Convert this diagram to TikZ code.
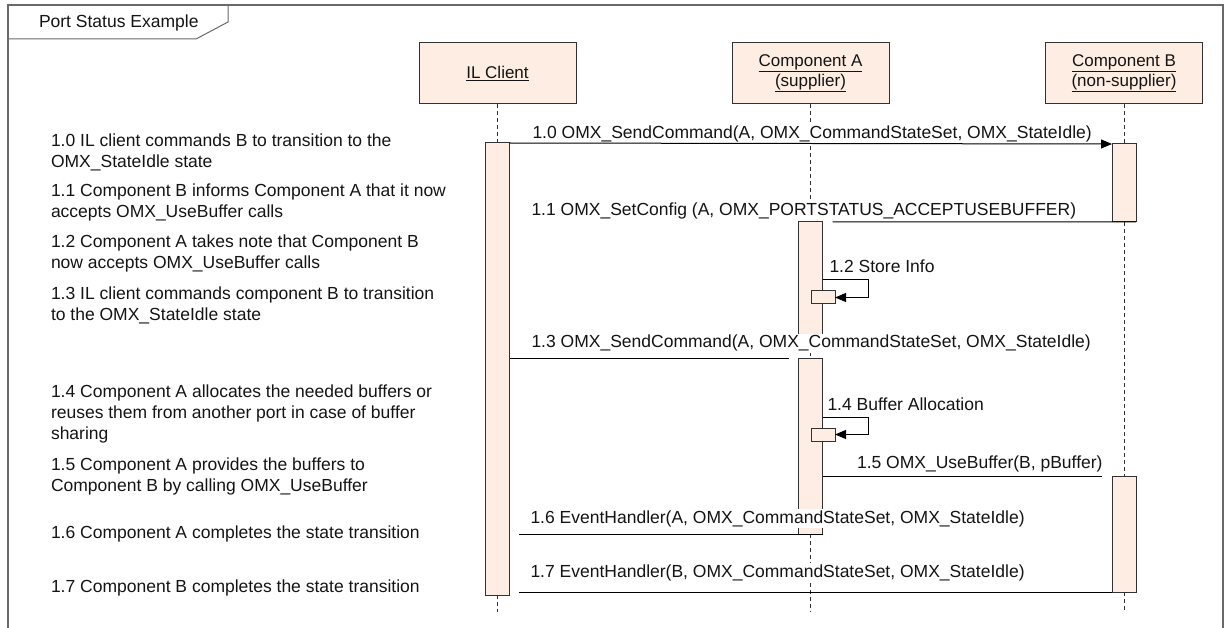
\documentclass[tikz,border=0pt]{standalone}
\usepackage{fontspec}
\setmainfont{Liberation Sans}
\usetikzlibrary{arrows.meta,calc}
\definecolor{peach}{RGB}{253,237,226}
\definecolor{edgec}{RGB}{50,50,50}
\definecolor{framec}{RGB}{105,105,105}
\definecolor{txt}{RGB}{20,20,20}
\begin{document}
\begin{tikzpicture}[x=1bp,y=-1bp,
  every node/.style={inner sep=0pt, outer sep=0pt, text=txt},
  body/.style={font=\fontsize{17.5bp}{21bp}\selectfont},
  lbl/.style={body, fill=white, inner xsep=1.5bp, inner ysep=1bp},
  head/.style={draw=edgec, fill=peach, line width=1bp, minimum width=157bp, minimum height=61bp, align=center, font=\fontsize{17bp}{20bp}\selectfont},
  bar/.style={draw=edgec, fill=peach, line width=1bp, minimum width=24bp, anchor=north},
  sbox/.style={draw=edgec, fill=peach, line width=1bp, minimum width=24bp, minimum height=13bp},
  life/.style={draw=edgec, line width=0.8bp, dash pattern=on 4bp off 3bp},
  msg/.style={draw=black, line width=1bp},
  tip/.style={-{Triangle[length=11bp,width=9bp]}}
]
\useasboundingbox (0,0) rectangle (1227,628);
% frame
\draw[framec, line width=1.3bp] (8,628) -- (8,5) -- (1223,5) -- (1223,628);
\draw[framec, line width=1bp] (8,39) -- (196,39) -- (228,22) -- (228,5);
\node[body, anchor=base west] (title) at (39,28) {Port Status Example};

% headers
\node[head] (il) at (497.5,73.5) {\underline{IL Client}};
\node[head] (ca) at (810.5,73.5) {\underline{Component A}\\\underline{(supplier)}};
\node[head] (cb) at (1124,73.5) {\underline{Component B}\\\underline{(non-supplier)}};

% end points of lifelines
\coordinate (ilend) at (497.5,612);
\coordinate (caend) at (810.5,612);
\coordinate (cbend) at (1124,612);

% activation bar tops
\path (497.5,143) coordinate (ilt) (1124,144) coordinate (b1t) (810.5,222) coordinate (a1t)
      (810.5,358) coordinate (a2t) (1124,476) coordinate (b2t);

% lifelines
\draw[life] (il.south) -- (ilt);
\draw[life] (ca.south) -- (a1t);
\draw[life] (cb.south) -- (b1t);

\node[bar, minimum height=452bp] (ilbar) at (ilt) {};
\node[bar, minimum height=78bp] (bbar1) at (b1t) {};
\node[bar, minimum height=123bp] (abar1) at (a1t) {};
\node[bar, minimum height=176bp] (abar2) at (a2t) {};
\node[bar, minimum height=116bp] (bbar2) at (b2t) {};

\draw[life] (ilbar.south) -- (ilend);
\draw[life] (abar1.south) -- (abar2.north);
\draw[life] (abar2.south) -- (caend);
\draw[life] (bbar1.south) -- (bbar2.north);
\draw[life] (bbar2.south) -- (cbend);

\node[sbox] (s12) at (823,297.5) {};
\node[sbox] (s14) at (823,434.5) {};

% message labels (white ground hides what lies behind them)
\node[lbl, anchor=base west] (m10) at (531,139) {1.0 OMX\_SendCommand(A, OMX\_CommandStateSet, OMX\_StateIdle)};
\node[lbl, anchor=base west] (m11) at (530,216) {1.1 OMX\_SetConfig (A, OMX\_PORTSTATUS\_ACCEPTUSEBUFFER)};
\node[lbl, anchor=base west] (m12) at (828,273) {1.2 Store Info};
\node[lbl, anchor=base west] (m13) at (530,348) {1.3 OMX\_SendCommand(A, OMX\_CommandStateSet, OMX\_StateIdle)};
\node[lbl, anchor=base west] (m14) at (826,410) {1.4 Buffer Allocation};
\node[lbl, anchor=base east] (m15) at (1104,468) {1.5 OMX\_UseBuffer(B, pBuffer)};
\node[lbl, anchor=base west] (m16) at (529,523) {1.6 EventHandler(A, OMX\_CommandStateSet, OMX\_StateIdle)};
\node[lbl, anchor=base west] (m17) at (529,577) {1.7 EventHandler(B, OMX\_CommandStateSet, OMX\_StateIdle)};

% messages
\draw[msg,tip] (ilbar.north east) -- (bbar1.north west);
\draw[msg, shorten >=10bp] (bbar1.south east) -- (abar1.north east);
\draw[msg,tip] ($(abar1.north east)+(0,58)$) -- ++(46,0) |- (s12.east);
\draw[msg, shorten >=10bp] (ilbar.east |- abar2.north) -- (abar2.north west);
\draw[msg,tip] ($(abar2.north east)+(0,59)$) -- ++(46,0) |- (s14.east);
\draw[msg, shorten >=10bp] (abar2.east |- bbar2.north) -- (bbar2.north west);
\draw[msg, shorten >=9bp] (abar2.south east) -- (ilbar.east |- abar2.south);
\draw[msg, shorten >=9bp] (bbar2.south west) -- (ilbar.east |- bbar2.south);

% notes (anchor = baseline of the last line)
\node[body, anchor=base west, align=left] (n10) at (51,168) {1.0 IL client commands B to transition to the\\OMX\_StateIdle state};
\node[body, anchor=base west, align=left] (n11) at (51,218) {1.1 Component B informs Component A that it now\\accepts OMX\_UseBuffer calls};
\node[body, anchor=base west, align=left] (n12) at (51,269) {1.2 Component A takes note that Component B\\now accepts OMX\_UseBuffer calls};
\node[body, anchor=base west, align=left] (n13) at (51,321) {1.3 IL client commands component B to transition\\to the OMX\_StateIdle state};
\node[body, anchor=base west, align=left] (n14) at (51,439) {1.4 Component A allocates the needed buffers or\\reuses them from another port in case of buffer\\sharing};
\node[body, anchor=base west, align=left] (n15) at (51,491) {1.5 Component A provides the buffers to\\Component B by calling OMX\_UseBuffer};
\node[body, anchor=base west] (n16) at (51,538) {1.6 Component A completes the state transition};
\node[body, anchor=base west] (n17) at (51,592) {1.7 Component B completes the state transition};
\end{tikzpicture}
\end{document}
